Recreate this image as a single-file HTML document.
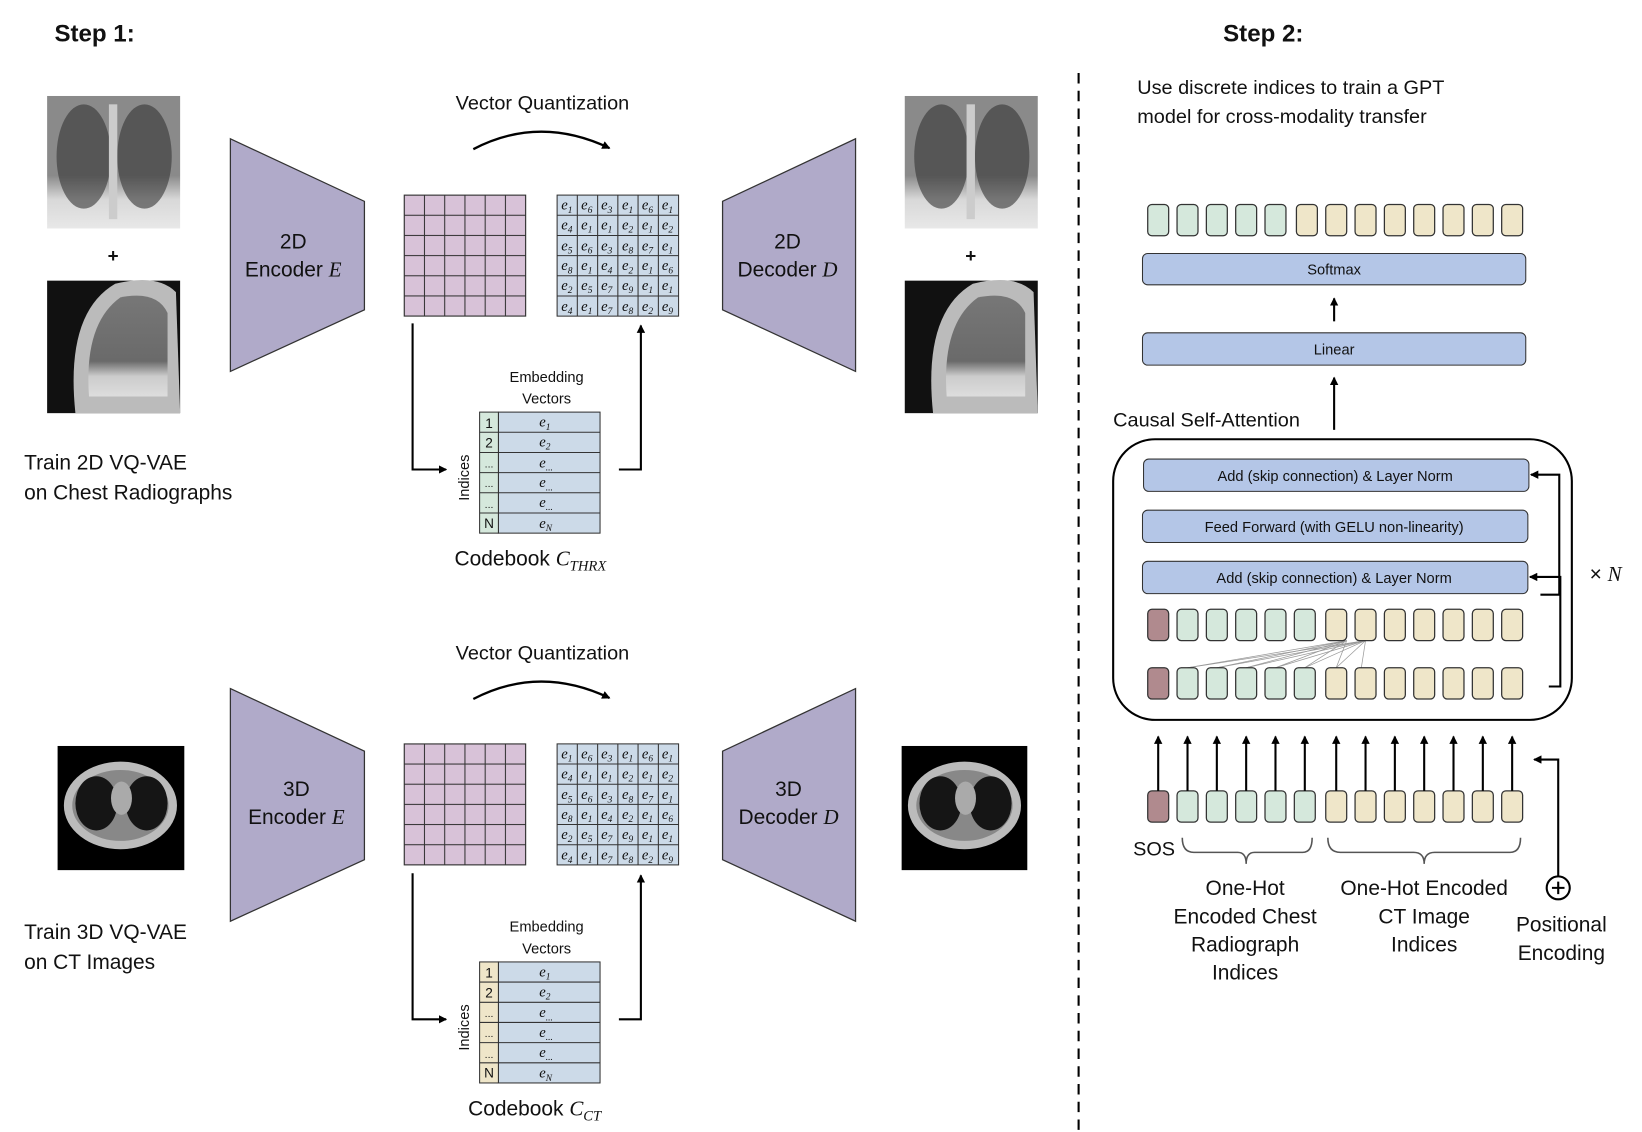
<!DOCTYPE html>
<html><head><meta charset="utf-8"><style>
html,body{margin:0;padding:0;background:#fff;}
svg{display:block;}
text{font-family:"Liberation Sans",sans-serif;fill:#111;}
.e{font-family:"Liberation Serif",serif;font-size:14px;font-style:italic;}
.s{font-size:9px;}
</style></head><body>
<svg width="1642" height="1132" viewBox="0 0 1568 1085" preserveAspectRatio="none" xmlns="http://www.w3.org/2000/svg">
<defs>
<marker id="ah" markerWidth="8" markerHeight="8" refX="7" refY="4" orient="auto" markerUnits="userSpaceOnUse"><path d="M0,0 L8,4 L0,8 z" fill="#000"/></marker>
<linearGradient id="belly" x1="0" y1="0" x2="0" y2="1"><stop offset="0" stop-color="#8a8a8a"/><stop offset="0.6" stop-color="#8a8a8a"/><stop offset="0.78" stop-color="#d8d8d8"/><stop offset="1" stop-color="#e8e8e8"/></linearGradient>
<linearGradient id="lat" x1="0" y1="0" x2="0" y2="1"><stop offset="0" stop-color="#777"/><stop offset="0.65" stop-color="#6a6a6a"/><stop offset="0.8" stop-color="#ccc"/><stop offset="1" stop-color="#ddd"/></linearGradient>
<pattern id="pg" x="386" y="187" width="19.33" height="19.33" patternUnits="userSpaceOnUse"><rect width="19.33" height="19.33" fill="#d8c2d8" stroke="#333" stroke-width="1"/></pattern>
</defs>

<text x="52" y="40" font-size="23" font-weight="bold">Step 1:</text>
<text x="1168" y="40" font-size="23" font-weight="bold">Step 2:</text>
<line x1="1030" y1="70" x2="1030" y2="1085" stroke="#000" stroke-width="2" stroke-dasharray="10,7"/>

<g>
<rect x="45" y="92" width="127" height="127" fill="url(#belly)"/>
<ellipse cx="80" cy="150" rx="26" ry="50" fill="#333" opacity="0.6"/>
<ellipse cx="138" cy="150" rx="26" ry="50" fill="#333" opacity="0.6"/>
<rect x="104" y="100" width="8" height="110" fill="#ccc"/>
<rect x="45" y="269" width="127" height="127" fill="#111"/>
<path d="M72,396 Q62,300 110,272 Q150,262 168,280 L172,396 Z" fill="#bbb"/>
<path d="M85,380 Q80,310 115,285 Q150,278 160,300 L160,380 Z" fill="url(#lat)"/>
<rect x="864" y="92" width="127" height="127" fill="url(#belly)"/>
<ellipse cx="899" cy="150" rx="26" ry="50" fill="#333" opacity="0.6"/>
<ellipse cx="957" cy="150" rx="26" ry="50" fill="#333" opacity="0.6"/>
<rect x="923" y="100" width="8" height="110" fill="#ccc"/>
<rect x="864" y="269" width="127" height="127" fill="#111"/>
<path d="M891,396 Q881,300 929,272 Q969,262 987,280 L991,396 Z" fill="#bbb"/>
<path d="M904,380 Q899,310 934,285 Q969,278 979,300 L979,380 Z" fill="url(#lat)"/>
<text x="108" y="251" font-size="18" text-anchor="middle" font-weight="bold">+</text>
<text x="927" y="251" font-size="18" text-anchor="middle" font-weight="bold">+</text>
<rect x="55" y="715" width="121" height="119" fill="#000"/>
<ellipse cx="115" cy="772" rx="54" ry="42" fill="#bbb"/>
<ellipse cx="115" cy="772" rx="46" ry="34" fill="#888"/>
<ellipse cx="92" cy="770" rx="20" ry="26" fill="#151515"/>
<ellipse cx="140" cy="770" rx="20" ry="26" fill="#151515"/>
<ellipse cx="116" cy="765" rx="10" ry="16" fill="#aaa"/>
<rect x="861" y="715" width="120" height="119" fill="#000"/>
<ellipse cx="921" cy="772" rx="54" ry="42" fill="#bbb"/>
<ellipse cx="921" cy="772" rx="46" ry="34" fill="#888"/>
<ellipse cx="898" cy="770" rx="20" ry="26" fill="#151515"/>
<ellipse cx="946" cy="770" rx="20" ry="26" fill="#151515"/>
<ellipse cx="922" cy="765" rx="10" ry="16" fill="#aaa"/>
</g>

<text x="23" y="450" font-size="20">Train 2D VQ-VAE</text>
<text x="23" y="479" font-size="20">on Chest Radiographs</text>
<text x="23" y="900" font-size="20">Train 3D VQ-VAE</text>
<text x="23" y="929" font-size="20">on CT Images</text>

<polygon points="220,133 348,193 348,297 220,356" fill="#b0aac9" stroke="#333" stroke-width="1.2"/>
<text x="280" y="238" font-size="20" text-anchor="middle">2D</text>
<text x="280" y="265" font-size="20" text-anchor="middle">Encoder <tspan font-family="Liberation Serif" font-style="italic">E</tspan></text>
<polygon points="690,193 817,133 817,356 690,297" fill="#b0aac9" stroke="#333" stroke-width="1.2"/>
<text x="752" y="238" font-size="20" text-anchor="middle">2D</text>
<text x="752" y="265" font-size="20" text-anchor="middle">Decoder <tspan font-family="Liberation Serif" font-style="italic">D</tspan></text>
<polygon points="220,660 348,720 348,824 220,883" fill="#b0aac9" stroke="#333" stroke-width="1.2"/>
<text x="283" y="763" font-size="20" text-anchor="middle">3D</text>
<text x="283" y="790" font-size="20" text-anchor="middle">Encoder <tspan font-family="Liberation Serif" font-style="italic">E</tspan></text>
<polygon points="690,720 817,660 817,883 690,824" fill="#b0aac9" stroke="#333" stroke-width="1.2"/>
<text x="753" y="763" font-size="20" text-anchor="middle">3D</text>
<text x="753" y="790" font-size="20" text-anchor="middle">Decoder <tspan font-family="Liberation Serif" font-style="italic">D</tspan></text>

<text x="518" y="105" font-size="19" text-anchor="middle">Vector Quantization</text>
<path d="M452,143 Q515,110 582,142" fill="none" stroke="#000" stroke-width="2.2" marker-end="url(#ah)"/>
<text x="518" y="632" font-size="19" text-anchor="middle">Vector Quantization</text>
<path d="M452,670 Q515,637 582,669" fill="none" stroke="#000" stroke-width="2.2" marker-end="url(#ah)"/>

<rect x="386" y="187" width="116" height="116" fill="url(#pg)" stroke="#333"/>
<g transform="translate(0,526)"><rect x="386" y="187" width="116" height="116" fill="url(#pg)" stroke="#333"/></g>

<g>
<rect x="532" y="187" width="116" height="116" fill="#ccdae8" stroke="#333"/>
<path d="M551.3,187V303M570.7,187V303M590,187V303M609.3,187V303M628.7,187V303M532,206.3H648M532,225.7H648M532,245H648M532,264.3H648M532,283.7H648" stroke="#333" stroke-width="1"/>
<text class="e" y="201"><tspan x="536">e</tspan><tspan class="s" dy="3">1</tspan><tspan x="555" dy="-3">e</tspan><tspan class="s" dy="3">6</tspan><tspan x="574" dy="-3">e</tspan><tspan class="s" dy="3">3</tspan><tspan x="594" dy="-3">e</tspan><tspan class="s" dy="3">1</tspan><tspan x="613" dy="-3">e</tspan><tspan class="s" dy="3">6</tspan><tspan x="632" dy="-3">e</tspan><tspan class="s" dy="3">1</tspan></text>
<text class="e" y="220"><tspan x="536">e</tspan><tspan class="s" dy="3">4</tspan><tspan x="555" dy="-3">e</tspan><tspan class="s" dy="3">1</tspan><tspan x="574" dy="-3">e</tspan><tspan class="s" dy="3">1</tspan><tspan x="594" dy="-3">e</tspan><tspan class="s" dy="3">2</tspan><tspan x="613" dy="-3">e</tspan><tspan class="s" dy="3">1</tspan><tspan x="632" dy="-3">e</tspan><tspan class="s" dy="3">2</tspan></text>
<text class="e" y="240"><tspan x="536">e</tspan><tspan class="s" dy="3">5</tspan><tspan x="555" dy="-3">e</tspan><tspan class="s" dy="3">6</tspan><tspan x="574" dy="-3">e</tspan><tspan class="s" dy="3">3</tspan><tspan x="594" dy="-3">e</tspan><tspan class="s" dy="3">8</tspan><tspan x="613" dy="-3">e</tspan><tspan class="s" dy="3">7</tspan><tspan x="632" dy="-3">e</tspan><tspan class="s" dy="3">1</tspan></text>
<text class="e" y="259"><tspan x="536">e</tspan><tspan class="s" dy="3">8</tspan><tspan x="555" dy="-3">e</tspan><tspan class="s" dy="3">1</tspan><tspan x="574" dy="-3">e</tspan><tspan class="s" dy="3">4</tspan><tspan x="594" dy="-3">e</tspan><tspan class="s" dy="3">2</tspan><tspan x="613" dy="-3">e</tspan><tspan class="s" dy="3">1</tspan><tspan x="632" dy="-3">e</tspan><tspan class="s" dy="3">6</tspan></text>
<text class="e" y="278"><tspan x="536">e</tspan><tspan class="s" dy="3">2</tspan><tspan x="555" dy="-3">e</tspan><tspan class="s" dy="3">5</tspan><tspan x="574" dy="-3">e</tspan><tspan class="s" dy="3">7</tspan><tspan x="594" dy="-3">e</tspan><tspan class="s" dy="3">9</tspan><tspan x="613" dy="-3">e</tspan><tspan class="s" dy="3">1</tspan><tspan x="632" dy="-3">e</tspan><tspan class="s" dy="3">1</tspan></text>
<text class="e" y="298"><tspan x="536">e</tspan><tspan class="s" dy="3">4</tspan><tspan x="555" dy="-3">e</tspan><tspan class="s" dy="3">1</tspan><tspan x="574" dy="-3">e</tspan><tspan class="s" dy="3">7</tspan><tspan x="594" dy="-3">e</tspan><tspan class="s" dy="3">8</tspan><tspan x="613" dy="-3">e</tspan><tspan class="s" dy="3">2</tspan><tspan x="632" dy="-3">e</tspan><tspan class="s" dy="3">9</tspan></text>
</g>
<g transform="translate(0,526)">
<rect x="532" y="187" width="116" height="116" fill="#ccdae8" stroke="#333"/>
<path d="M551.3,187V303M570.7,187V303M590,187V303M609.3,187V303M628.7,187V303M532,206.3H648M532,225.7H648M532,245H648M532,264.3H648M532,283.7H648" stroke="#333" stroke-width="1"/>
<text class="e" y="201"><tspan x="536">e</tspan><tspan class="s" dy="3">1</tspan><tspan x="555" dy="-3">e</tspan><tspan class="s" dy="3">6</tspan><tspan x="574" dy="-3">e</tspan><tspan class="s" dy="3">3</tspan><tspan x="594" dy="-3">e</tspan><tspan class="s" dy="3">1</tspan><tspan x="613" dy="-3">e</tspan><tspan class="s" dy="3">6</tspan><tspan x="632" dy="-3">e</tspan><tspan class="s" dy="3">1</tspan></text>
<text class="e" y="220"><tspan x="536">e</tspan><tspan class="s" dy="3">4</tspan><tspan x="555" dy="-3">e</tspan><tspan class="s" dy="3">1</tspan><tspan x="574" dy="-3">e</tspan><tspan class="s" dy="3">1</tspan><tspan x="594" dy="-3">e</tspan><tspan class="s" dy="3">2</tspan><tspan x="613" dy="-3">e</tspan><tspan class="s" dy="3">1</tspan><tspan x="632" dy="-3">e</tspan><tspan class="s" dy="3">2</tspan></text>
<text class="e" y="240"><tspan x="536">e</tspan><tspan class="s" dy="3">5</tspan><tspan x="555" dy="-3">e</tspan><tspan class="s" dy="3">6</tspan><tspan x="574" dy="-3">e</tspan><tspan class="s" dy="3">3</tspan><tspan x="594" dy="-3">e</tspan><tspan class="s" dy="3">8</tspan><tspan x="613" dy="-3">e</tspan><tspan class="s" dy="3">7</tspan><tspan x="632" dy="-3">e</tspan><tspan class="s" dy="3">1</tspan></text>
<text class="e" y="259"><tspan x="536">e</tspan><tspan class="s" dy="3">8</tspan><tspan x="555" dy="-3">e</tspan><tspan class="s" dy="3">1</tspan><tspan x="574" dy="-3">e</tspan><tspan class="s" dy="3">4</tspan><tspan x="594" dy="-3">e</tspan><tspan class="s" dy="3">2</tspan><tspan x="613" dy="-3">e</tspan><tspan class="s" dy="3">1</tspan><tspan x="632" dy="-3">e</tspan><tspan class="s" dy="3">6</tspan></text>
<text class="e" y="278"><tspan x="536">e</tspan><tspan class="s" dy="3">2</tspan><tspan x="555" dy="-3">e</tspan><tspan class="s" dy="3">5</tspan><tspan x="574" dy="-3">e</tspan><tspan class="s" dy="3">7</tspan><tspan x="594" dy="-3">e</tspan><tspan class="s" dy="3">9</tspan><tspan x="613" dy="-3">e</tspan><tspan class="s" dy="3">1</tspan><tspan x="632" dy="-3">e</tspan><tspan class="s" dy="3">1</tspan></text>
<text class="e" y="298"><tspan x="536">e</tspan><tspan class="s" dy="3">4</tspan><tspan x="555" dy="-3">e</tspan><tspan class="s" dy="3">1</tspan><tspan x="574" dy="-3">e</tspan><tspan class="s" dy="3">7</tspan><tspan x="594" dy="-3">e</tspan><tspan class="s" dy="3">8</tspan><tspan x="613" dy="-3">e</tspan><tspan class="s" dy="3">2</tspan><tspan x="632" dy="-3">e</tspan><tspan class="s" dy="3">9</tspan></text>
</g>

<g>
<path d="M394,310 V450 H426" fill="none" stroke="#000" stroke-width="2" marker-end="url(#ah)"/>
<path d="M591,450 H612 V312" fill="none" stroke="#000" stroke-width="2" marker-end="url(#ah)"/>
<text x="522" y="366" font-size="14" text-anchor="middle">Embedding</text>
<text x="522" y="387" font-size="14" text-anchor="middle">Vectors</text>
<rect x="458" y="395" width="18" height="116" fill="#d5e8dc" stroke="#333"/>
<rect x="476" y="395" width="97" height="116" fill="#ccdae8" stroke="#333"/>
<path d="M458,414.3H573M458,433.7H573M458,453H573M458,472.3H573M458,491.7H573" stroke="#333"/>
<text x="467" y="410" font-size="13" text-anchor="middle">1</text>
<text x="467" y="429" font-size="13" text-anchor="middle">2</text>
<text x="467" y="448" font-size="10" text-anchor="middle">...</text>
<text x="467" y="467" font-size="10" text-anchor="middle">...</text>
<text x="467" y="487" font-size="10" text-anchor="middle">...</text>
<text x="467" y="506" font-size="13" text-anchor="middle">N</text>
<text class="e" x="515" y="409">e<tspan class="s" dy="3">1</tspan></text>
<text class="e" x="515" y="428">e<tspan class="s" dy="3">2</tspan></text>
<text class="e" x="515" y="448">e<tspan class="s" dy="3">...</tspan></text>
<text class="e" x="515" y="467">e<tspan class="s" dy="3">...</tspan></text>
<text class="e" x="515" y="486">e<tspan class="s" dy="3">...</tspan></text>
<text class="e" x="515" y="506">e<tspan class="s" dy="3">N</tspan></text>
<text x="448" y="480" font-size="14" transform="rotate(-90 448 480)">Indices</text>
<text x="434" y="542" font-size="20">Codebook <tspan font-family="Liberation Serif" font-style="italic">C</tspan><tspan font-family="Liberation Serif" font-style="italic" font-size="14" dy="5">THRX</tspan></text>
</g>
<g transform="translate(0,527)">
<path d="M394,310 V450 H426" fill="none" stroke="#000" stroke-width="2" marker-end="url(#ah)"/>
<path d="M591,450 H612 V312" fill="none" stroke="#000" stroke-width="2" marker-end="url(#ah)"/>
<text x="522" y="366" font-size="14" text-anchor="middle">Embedding</text>
<text x="522" y="387" font-size="14" text-anchor="middle">Vectors</text>
<rect x="458" y="395" width="18" height="116" fill="#efe6c9" stroke="#333"/>
<rect x="476" y="395" width="97" height="116" fill="#ccdae8" stroke="#333"/>
<path d="M458,414.3H573M458,433.7H573M458,453H573M458,472.3H573M458,491.7H573" stroke="#333"/>
<text x="467" y="410" font-size="13" text-anchor="middle">1</text>
<text x="467" y="429" font-size="13" text-anchor="middle">2</text>
<text x="467" y="448" font-size="10" text-anchor="middle">...</text>
<text x="467" y="467" font-size="10" text-anchor="middle">...</text>
<text x="467" y="487" font-size="10" text-anchor="middle">...</text>
<text x="467" y="506" font-size="13" text-anchor="middle">N</text>
<text class="e" x="515" y="409">e<tspan class="s" dy="3">1</tspan></text>
<text class="e" x="515" y="428">e<tspan class="s" dy="3">2</tspan></text>
<text class="e" x="515" y="448">e<tspan class="s" dy="3">...</tspan></text>
<text class="e" x="515" y="467">e<tspan class="s" dy="3">...</tspan></text>
<text class="e" x="515" y="486">e<tspan class="s" dy="3">...</tspan></text>
<text class="e" x="515" y="506">e<tspan class="s" dy="3">N</tspan></text>
<text x="448" y="480" font-size="14" transform="rotate(-90 448 480)">Indices</text>
<text x="447" y="542" font-size="20">Codebook <tspan font-family="Liberation Serif" font-style="italic">C</tspan><tspan font-family="Liberation Serif" font-style="italic" font-size="14" dy="5">CT</tspan></text>
</g>

<text x="1086" y="90" font-size="19">Use discrete indices to train a GPT</text>
<text x="1086" y="118" font-size="19">model for cross-modality transfer</text>

<g stroke="#333" stroke-width="1.2">
<rect x="1096" y="196" width="20" height="30" rx="4" fill="#d5e8dc"/>
<rect x="1124" y="196" width="20" height="30" rx="4" fill="#d5e8dc"/>
<rect x="1152" y="196" width="20" height="30" rx="4" fill="#d5e8dc"/>
<rect x="1180" y="196" width="20" height="30" rx="4" fill="#d5e8dc"/>
<rect x="1208" y="196" width="20" height="30" rx="4" fill="#d5e8dc"/>
<rect x="1238" y="196" width="20" height="30" rx="4" fill="#efe6c9"/>
<rect x="1266" y="196" width="20" height="30" rx="4" fill="#efe6c9"/>
<rect x="1294" y="196" width="20" height="30" rx="4" fill="#efe6c9"/>
<rect x="1322" y="196" width="20" height="30" rx="4" fill="#efe6c9"/>
<rect x="1350" y="196" width="20" height="30" rx="4" fill="#efe6c9"/>
<rect x="1378" y="196" width="20" height="30" rx="4" fill="#efe6c9"/>
<rect x="1406" y="196" width="20" height="30" rx="4" fill="#efe6c9"/>
<rect x="1434" y="196" width="20" height="30" rx="4" fill="#efe6c9"/>
</g>

<rect x="1091" y="243" width="366" height="30" rx="5" fill="#b4c6e7" stroke="#333"/>
<text x="1274" y="263" font-size="14" text-anchor="middle">Softmax</text>
<line x1="1274" y1="308" x2="1274" y2="286" stroke="#000" stroke-width="2" marker-end="url(#ah)"/>
<rect x="1091" y="319" width="366" height="31" rx="5" fill="#b4c6e7" stroke="#333"/>
<text x="1274" y="340" font-size="14" text-anchor="middle">Linear</text>
<line x1="1274" y1="412" x2="1274" y2="362" stroke="#000" stroke-width="2" marker-end="url(#ah)"/>
<text x="1063" y="409" font-size="19">Causal Self-Attention</text>

<rect x="1063" y="421" width="438" height="269" rx="40" fill="none" stroke="#000" stroke-width="2"/>
<rect x="1092" y="440" width="368" height="31" rx="5" fill="#b4c6e7" stroke="#333"/>
<text x="1275" y="461" font-size="14" text-anchor="middle">Add (skip connection) &amp; Layer Norm</text>
<rect x="1091" y="489" width="368" height="31" rx="5" fill="#b4c6e7" stroke="#333"/>
<text x="1274" y="510" font-size="14" text-anchor="middle">Feed Forward (with GELU non-linearity)</text>
<rect x="1091" y="538" width="368" height="31" rx="5" fill="#b4c6e7" stroke="#333"/>
<text x="1274" y="559" font-size="14" text-anchor="middle">Add (skip connection) &amp; Layer Norm</text>
<path d="M1471,570 H1489 V455 H1462" fill="none" stroke="#000" stroke-width="2" marker-end="url(#ah)"/>
<path d="M1479,658 H1490 V553 H1461" fill="none" stroke="#000" stroke-width="2" marker-end="url(#ah)"/>
<text x="1518" y="557" font-size="20">× <tspan font-family="Liberation Serif" font-style="italic">N</tspan></text>

<g stroke="#999" stroke-width="0.7">
<line x1="1286" y1="614" x2="1134" y2="640"/><line x1="1286" y1="614" x2="1162" y2="640"/><line x1="1286" y1="614" x2="1190" y2="640"/><line x1="1286" y1="614" x2="1218" y2="640"/><line x1="1286" y1="614" x2="1246" y2="640"/><line x1="1286" y1="614" x2="1276" y2="640"/>
<line x1="1304" y1="614" x2="1134" y2="640"/><line x1="1304" y1="614" x2="1162" y2="640"/><line x1="1304" y1="614" x2="1190" y2="640"/><line x1="1304" y1="614" x2="1218" y2="640"/><line x1="1304" y1="614" x2="1246" y2="640"/><line x1="1304" y1="614" x2="1276" y2="640"/><line x1="1304" y1="614" x2="1300" y2="640"/>
</g>

<g stroke="#333" stroke-width="1.2">
<g transform="translate(0,388)">
<rect x="1096" y="196" width="20" height="30" rx="4" fill="#b08a8e"/>
<rect x="1124" y="196" width="20" height="30" rx="4" fill="#d5e8dc"/>
<rect x="1152" y="196" width="20" height="30" rx="4" fill="#d5e8dc"/>
<rect x="1180" y="196" width="20" height="30" rx="4" fill="#d5e8dc"/>
<rect x="1208" y="196" width="20" height="30" rx="4" fill="#d5e8dc"/>
<rect x="1236" y="196" width="20" height="30" rx="4" fill="#d5e8dc"/>
<rect x="1266" y="196" width="20" height="30" rx="4" fill="#efe6c9"/>
<rect x="1294" y="196" width="20" height="30" rx="4" fill="#efe6c9"/>
<rect x="1322" y="196" width="20" height="30" rx="4" fill="#efe6c9"/>
<rect x="1350" y="196" width="20" height="30" rx="4" fill="#efe6c9"/>
<rect x="1378" y="196" width="20" height="30" rx="4" fill="#efe6c9"/>
<rect x="1406" y="196" width="20" height="30" rx="4" fill="#efe6c9"/>
<rect x="1434" y="196" width="20" height="30" rx="4" fill="#efe6c9"/>
</g>
<g transform="translate(0,444)">
<rect x="1096" y="196" width="20" height="30" rx="4" fill="#b08a8e"/>
<rect x="1124" y="196" width="20" height="30" rx="4" fill="#d5e8dc"/>
<rect x="1152" y="196" width="20" height="30" rx="4" fill="#d5e8dc"/>
<rect x="1180" y="196" width="20" height="30" rx="4" fill="#d5e8dc"/>
<rect x="1208" y="196" width="20" height="30" rx="4" fill="#d5e8dc"/>
<rect x="1236" y="196" width="20" height="30" rx="4" fill="#d5e8dc"/>
<rect x="1266" y="196" width="20" height="30" rx="4" fill="#efe6c9"/>
<rect x="1294" y="196" width="20" height="30" rx="4" fill="#efe6c9"/>
<rect x="1322" y="196" width="20" height="30" rx="4" fill="#efe6c9"/>
<rect x="1350" y="196" width="20" height="30" rx="4" fill="#efe6c9"/>
<rect x="1378" y="196" width="20" height="30" rx="4" fill="#efe6c9"/>
<rect x="1406" y="196" width="20" height="30" rx="4" fill="#efe6c9"/>
<rect x="1434" y="196" width="20" height="30" rx="4" fill="#efe6c9"/>
</g>
<g transform="translate(0,562)">
<rect x="1096" y="196" width="20" height="30" rx="4" fill="#b08a8e"/>
<rect x="1124" y="196" width="20" height="30" rx="4" fill="#d5e8dc"/>
<rect x="1152" y="196" width="20" height="30" rx="4" fill="#d5e8dc"/>
<rect x="1180" y="196" width="20" height="30" rx="4" fill="#d5e8dc"/>
<rect x="1208" y="196" width="20" height="30" rx="4" fill="#d5e8dc"/>
<rect x="1236" y="196" width="20" height="30" rx="4" fill="#d5e8dc"/>
<rect x="1266" y="196" width="20" height="30" rx="4" fill="#efe6c9"/>
<rect x="1294" y="196" width="20" height="30" rx="4" fill="#efe6c9"/>
<rect x="1322" y="196" width="20" height="30" rx="4" fill="#efe6c9"/>
<rect x="1350" y="196" width="20" height="30" rx="4" fill="#efe6c9"/>
<rect x="1378" y="196" width="20" height="30" rx="4" fill="#efe6c9"/>
<rect x="1406" y="196" width="20" height="30" rx="4" fill="#efe6c9"/>
<rect x="1434" y="196" width="20" height="30" rx="4" fill="#efe6c9"/>
</g>
</g>

<g stroke="#000" stroke-width="2" marker-end="url(#ah)">
<line x1="1106" y1="758" x2="1106" y2="706"/><line x1="1134" y1="758" x2="1134" y2="706"/><line x1="1162" y1="758" x2="1162" y2="706"/><line x1="1190" y1="758" x2="1190" y2="706"/><line x1="1218" y1="758" x2="1218" y2="706"/><line x1="1246" y1="758" x2="1246" y2="706"/>
<line x1="1276" y1="758" x2="1276" y2="706"/><line x1="1304" y1="758" x2="1304" y2="706"/><line x1="1332" y1="758" x2="1332" y2="706"/><line x1="1360" y1="758" x2="1360" y2="706"/><line x1="1388" y1="758" x2="1388" y2="706"/><line x1="1416" y1="758" x2="1416" y2="706"/><line x1="1444" y1="758" x2="1444" y2="706"/>
</g>
<path d="M1488,840 V728 H1465" fill="none" stroke="#000" stroke-width="2" marker-end="url(#ah)"/>
<circle cx="1488" cy="851" r="11" fill="#fff" stroke="#000" stroke-width="2"/>
<path d="M1482,851H1494M1488,845V857" stroke="#000" stroke-width="2"/>

<path d="M1129,803 Q1129,817 1140,817 H1182 Q1190,817 1190,828 Q1190,817 1198,817 H1244 Q1253,817 1253,803" fill="none" stroke="#555" stroke-width="1.5"/>
<path d="M1268,803 Q1268,817 1280,817 H1350 Q1360,817 1360,828 Q1360,817 1370,817 H1442 Q1452,817 1452,803" fill="none" stroke="#555" stroke-width="1.5"/>
<text x="1082" y="820" font-size="19">SOS</text>
<g font-size="20">
<text x="1189" y="858" text-anchor="middle">One-Hot</text>
<text x="1189" y="885" text-anchor="middle">Encoded Chest</text>
<text x="1189" y="912" text-anchor="middle">Radiograph</text>
<text x="1189" y="939" text-anchor="middle">Indices</text>
<text x="1360" y="858" text-anchor="middle">One-Hot Encoded</text>
<text x="1360" y="885" text-anchor="middle">CT Image</text>
<text x="1360" y="912" text-anchor="middle">Indices</text>
<text x="1491" y="893" text-anchor="middle">Positional</text>
<text x="1491" y="920" text-anchor="middle">Encoding</text>
</g>
</svg>
</body></html>
